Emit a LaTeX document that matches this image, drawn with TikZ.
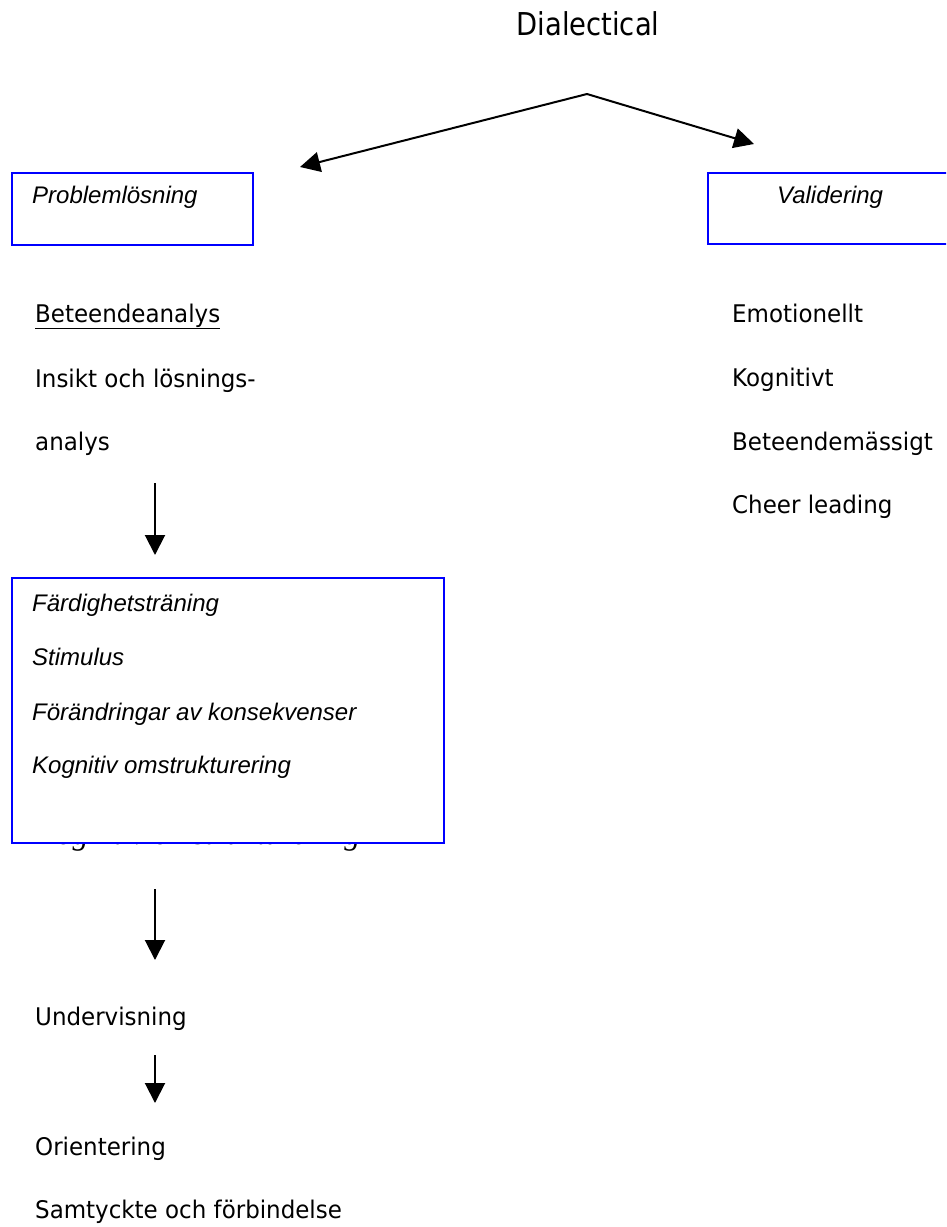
\documentclass[tikz,border=0pt]{standalone}
\usepackage{fontspec}
\setmainfont{DejaVu Sans}
\newfontfamily\arialfont{Liberation Sans}
\newfontfamily\timesfont{Liberation Serif}
\usetikzlibrary{arrows.meta}

% narrow the sans text a little, so it has the look of Tahoma
\newcommand{\narrowtxt}[1]{\scalebox{0.945}[1]{#1}}

\tikzset{
  txt/.style={anchor=base west, inner sep=0pt, font=\fontsize{24.3}{24.3}\selectfont},
  boxtxt/.style={anchor=base west, inner sep=0pt, font=\arialfont\itshape\fontsize{24}{24}\selectfont},
  bluebox/.style={draw=blue, line width=1.7pt, fill=white, inner sep=0pt, anchor=north west},
  arr/.style={line width=2pt, -{Triangle[length=20pt,width=20pt]}},
}

\begin{document}
\begin{tikzpicture}[x=1pt, y=-1pt]
    \clip (0,0) rectangle (946,1227);
    \fill[white] (0,0) rectangle (946,1227);
    % title and the two branches
    \node[anchor=base, inner sep=0pt, font=\fontsize{31.5}{31.5}\selectfont] (dial) at (588,35) {\scalebox{0.87}[1]{Dialectical}};
    \coordinate (apex) at (587,94);
    \coordinate (ltip) at (300,167);
    \coordinate (rtip) at (754,144);
    \draw[arr] (apex) -- (ltip);
    \draw[arr] (apex) -- (rtip);
    % header boxes
    \node[bluebox, minimum width=241pt, minimum height=72pt] (prob) at (11,172) {};
    \node[boxtxt] (probtxt) at (32,203) {Problemlösning};
    \node[bluebox, minimum width=260pt, minimum height=71pt] (valid) at (707,172) {};
    \node[boxtxt] (validtxt) at (777,203) {Validering};
    % left column
    \node[txt] (beteende) at (35,322) {\narrowtxt{\underline{Beteendeanalys}}};
    \node[txt] (insikt) at (35,387) {\narrowtxt{Insikt och lösnings-}};
    \node[txt] (analys) at (35,450) {\narrowtxt{analys}};
    \coordinate (a1s) at (155,483);
    \coordinate (a1e) at (155,555);
    \draw[arr] (a1s) -- (a1e);
    % text partly hidden behind the box
    \node[anchor=base west, inner sep=0pt, font=\timesfont\itshape\fontsize{32}{32}\selectfont] (hidden) at (35,844) {Kognitiv omstrukturering};
    \node[bluebox, minimum width=432pt, minimum height=265pt] (skills) at (11,577) {};
    \node[boxtxt] (fard) at (32,611) {Färdighetsträning};
    \node[boxtxt] (stim) at (32,665) {Stimulus};
    \node[boxtxt] (forand) at (32,720) {Förändringar av konsekvenser};
    \node[boxtxt] (kogn) at (32,773) {Kognitiv omstrukturering};
    \coordinate (a2s) at (155,889);
    \coordinate (a2e) at (155,960);
    \draw[arr] (a2s) -- (a2e);
    \node[txt] (underv) at (35,1025) {\narrowtxt{Undervisning}};
    \coordinate (a3s) at (155,1055);
    \coordinate (a3e) at (155,1103);
    \draw[arr] (a3s) -- (a3e);
    \node[txt] (orient) at (35,1155) {\narrowtxt{Orientering}};
    \node[txt] (samt) at (35,1218) {\narrowtxt{Samtyckte och förbindelse}};
    % right column
    \node[txt] (emot) at (732,322) {\narrowtxt{Emotionellt}};
    \node[txt] (kognt) at (732,386) {\narrowtxt{Kognitivt}};
    \node[txt] (beteendem) at (732,450) {\narrowtxt{Beteendemässigt}};
    \node[txt] (cheer) at (732,513) {\narrowtxt{Cheer leading}};
\end{tikzpicture}
\end{document}
